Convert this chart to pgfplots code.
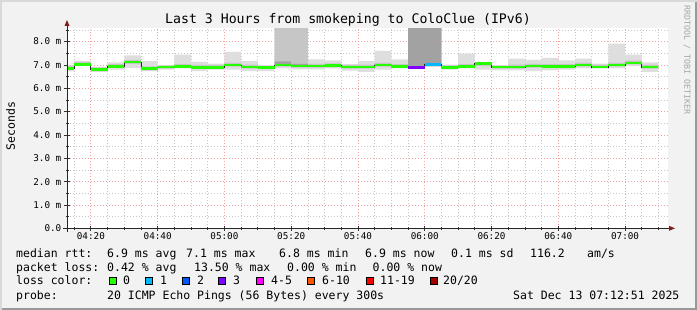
\documentclass[border=0pt]{standalone}
\usepackage{fontspec}
\setmainfont{DejaVu Sans Mono}
\usepackage{pgfplots}
\pgfplotsset{compat=1.18}
\usepgfplotslibrary{fillbetween}
\usepackage{pgfplotstable}
\newcommand\fs[1]{\fontsize{#1}{#1}\selectfont}
\definecolor{bgc}{HTML}{F2F2F2}
\definecolor{smokeA}{HTML}{DEDEDE}
\definecolor{smokeB}{HTML}{C6C6C6}
\definecolor{smokeC}{HTML}{A2A2A2}
\definecolor{lz}{HTML}{26FF00}
\definecolor{lone}{HTML}{00B8FF}
\definecolor{ltwo}{HTML}{0059FF}
\definecolor{lthree}{HTML}{7E00FF}
\definecolor{lfour}{HTML}{FF00FF}
\definecolor{lsix}{HTML}{FF5500}
\definecolor{leleven}{HTML}{FF0000}
\definecolor{ltwenty}{HTML}{A10000}
\definecolor{mgrid}{HTML}{F0A0A0}
\definecolor{mingrid}{HTML}{C8C8C8}
\definecolor{arrowc}{HTML}{7F1F1F}
\pgfplotstableread{
t lo1 lo2 lo3 hi3 hi2 hi1 med
12.85 6.72 6.79 6.83 6.90 6.96 7.00 6.86
15 6.97 6.97 7.00 7.07 7.13 7.16 7.03
20 6.70 6.74 6.78 6.85 6.90 6.92 6.81
25 6.80 6.87 6.91 6.98 7.04 7.11 6.94
30 6.87 7.05 7.09 7.16 7.22 7.41 7.12
35 6.74 6.77 6.81 6.88 6.94 7.16 6.84
40 6.80 6.84 6.88 6.95 6.97 6.98 6.91
45 6.85 6.87 6.91 6.98 7.04 7.44 6.94
50 6.73 6.83 6.87 6.94 7.00 7.13 6.90
55 6.80 6.83 6.87 6.94 7.00 7.06 6.90
60 6.80 6.93 6.97 7.04 7.10 7.56 7.00
65 6.73 6.84 6.88 6.95 7.01 7.16 6.91
70 6.73 6.83 6.87 6.94 6.96 6.98 6.90
75 6.85 6.93 6.97 7.15 9.00 9.00 7.00
80 6.81 6.88 6.92 7.05 9.00 9.00 6.95
85 6.81 6.88 6.92 6.99 7.05 7.24 6.95
90 6.85 6.90 6.94 7.01 7.07 7.20 6.97
95 6.76 6.84 6.88 6.95 7.00 7.03 6.91
100 6.70 6.84 6.88 6.95 7.01 7.16 6.91
105 6.80 6.93 6.97 7.04 7.10 7.60 7.00
110 6.85 6.87 6.90 6.97 7.03 7.24 6.93
115 6.85 6.86 6.87 9.00 9.00 9.00 6.90
120 6.92 6.95 6.98 9.00 9.00 9.00 7.03
125 6.80 6.83 6.86 6.93 6.98 7.01 6.89
130 6.85 6.87 6.90 6.97 7.03 7.49 6.93
135 6.80 6.96 7.03 7.09 7.11 7.12 7.06
140 6.77 6.84 6.88 6.95 6.97 6.98 6.91
145 6.77 6.84 6.88 6.95 7.01 7.27 6.91
150 6.73 6.88 6.92 6.99 7.05 7.22 6.95
155 6.77 6.86 6.90 6.97 7.03 7.30 6.93
160 6.80 6.86 6.90 6.97 7.03 7.20 6.93
165 6.85 6.93 6.97 7.04 7.10 7.27 7.00
170 6.85 6.86 6.88 6.95 7.01 7.06 6.91
175 6.85 6.93 6.97 7.04 7.10 7.91 7.00
180 6.95 7.02 7.06 7.13 7.19 7.44 7.09
185 6.70 6.84 6.88 6.95 7.01 7.11 6.91
190 6.70 6.84 6.88 6.95 7.01 7.11 6.91
}\smoke
\pagecolor{bgc}
\begin{document}
\begin{tikzpicture}[x=1pt,y=1pt]
\path (0,0) rectangle (697,310);
\begin{axis}[
  at={(67pt,81.7pt)}, anchor=south west,
  scale only axis, width=601pt, height=200pt,
  xmin=12.85, xmax=192.85, ymin=0, ymax=8.57,
  axis background/.style={fill=white},
  axis x line*=bottom, axis y line*=left,
  axis line style={black!85, line width=1pt, -},
  xtick={20,40,...,180},
  xticklabels={04:20,04:40,05:00,05:20,05:40,06:00,06:20,06:40,07:00},
  minor xtick={15,25,30,35,45,50,55,65,70,75,85,90,95,105,110,115,125,130,135,145,150,155,165,170,175,185,190},
  ytick={0,1,...,8},
  yticklabels={0.0,1.0 m,2.0 m,3.0 m,4.0 m,5.0 m,6.0 m,7.0 m,8.0 m},
  minor ytick={0.5,1.5,...,8.5},
  xmajorgrids, ymajorgrids, xminorgrids, yminorgrids,
  major grid style={draw=mgrid, line width=0.8pt, dash pattern=on 1pt off 2pt},
  minor grid style={draw=mingrid, line width=0.8pt, dash pattern=on 1pt off 2pt},
  tick align=center,
  major tick length=5pt, minor tick length=3pt,
  every tick/.style={draw=black!80, line width=0.8pt},
  xticklabel style={font=\fs{9.3}, anchor=base, inner sep=0pt, yshift=-9pt},
  yticklabel style={font=\fs{9.3}, anchor=east, inner sep=0pt, xshift=-3pt},
  clip=true,
]
\addplot[name path=l1, draw=none, const plot] table[x=t,y=lo1]{\smoke};
\addplot[name path=l2, draw=none, const plot] table[x=t,y=lo2]{\smoke};
\addplot[name path=l3, draw=none, const plot] table[x=t,y=lo3]{\smoke};
\addplot[name path=h3, draw=none, const plot] table[x=t,y=hi3]{\smoke};
\addplot[name path=h2, draw=none, const plot] table[x=t,y=hi2]{\smoke};
\addplot[name path=h1, draw=none, const plot] table[x=t,y=hi1]{\smoke};
\addplot[fill=smokeA, draw=none] fill between[of=l1 and h1];
\addplot[fill=smokeB, draw=none] fill between[of=l2 and h2];
\addplot[fill=smokeC, draw=none] fill between[of=l3 and h3];
\addplot[const plot, black!85, line width=0.8pt] table[x=t,y=med]{\smoke};
\addplot[jump mark left, lz, line width=2.6pt] table[x=t,y=med]{\smoke};
\addplot[jump mark left, lthree, line width=2.6pt] coordinates {(115,6.90) (120,6.90)};
\addplot[jump mark left, lone, line width=2.6pt] coordinates {(120,7.03) (125,7.03)};
\end{axis}
% frame
\fill[black!40] (0,0) rectangle (697,2);
\fill[black!40] (695,0) rectangle (697,310);
\fill[black!15] (0,308) rectangle (697,310);
\fill[black!15] (0,0) rectangle (2,310);
% axes
\draw[black!85, line width=1pt] (67,78) -- (67,285);
\fill[arrowc] (67,290) -- (64.5,284) -- (69.5,284) -- cycle;
\draw[black!85, line width=1pt] (63,81.7) -- (670,81.7);
\fill[arrowc] (675,81.7) -- (669,84.2) -- (669,79.2) -- cycle;
% title
\node[anchor=base, inner sep=0, font=\fs{13.2}] at (348,286) {Last 3 Hours from smokeping to ColoClue (IPv6)};
\node[rotate=90, font=\fs{11.5}, inner sep=0] at (10.5,184) {Seconds};
\node[rotate=-90, font=\fs{8.3}, inner sep=0, text=black!35] at (687,250) {RRDTOOL / TOBI OETIKER};
% legend rows
\begin{scope}[every node/.style={anchor=base west, inner sep=0, font=\fs{11.5}}]
\node at (16,52.3) {median rtt:};
\node at (107,52.3) {6.9 ms avg};
\node at (186,52.3) {7.1 ms max};
\node at (279,52.3) {6.8 ms min};
\node at (365,52.3) {6.9 ms now};
\node at (451,52.3) {0.1 ms sd};
\node at (530,52.3) {116.2};
\node at (587,52.3) {am/s};
\node at (16,38) {packet loss:};
\node at (107,38) {0.42 \% avg};
\node at (194,38) {13.50 \% max};
\node at (287,38) {0.00 \% min};
\node at (372.5,38) {0.00 \% now};
\node at (16,25) {loss color:};
\node at (123,25) {0};
\node at (160,25) {1};
\node at (197,25) {2};
\node at (233,25) {3};
\node at (271,25) {4-5};
\node at (322,25) {6-10};
\node at (380,25) {11-19};
\node at (443,25) {20/20};
\node at (16,10.7) {probe:};
\node at (107,10.7) {20 ICMP Echo Pings (56 Bytes) every 300s};
\node at (513,10.7) {Sat Dec 13 07:12:51 2025};
\end{scope}
\foreach \xx/\cc in {109/lz,145/lone,182/ltwo,218/lthree,256/lfour,307/lsix,366/leleven,430/ltwenty}{
  \filldraw[fill=\cc, draw=black, line width=0.8pt] (\xx,25.3) rectangle ++(7.5,7.7);
}
\end{tikzpicture}
\end{document}
